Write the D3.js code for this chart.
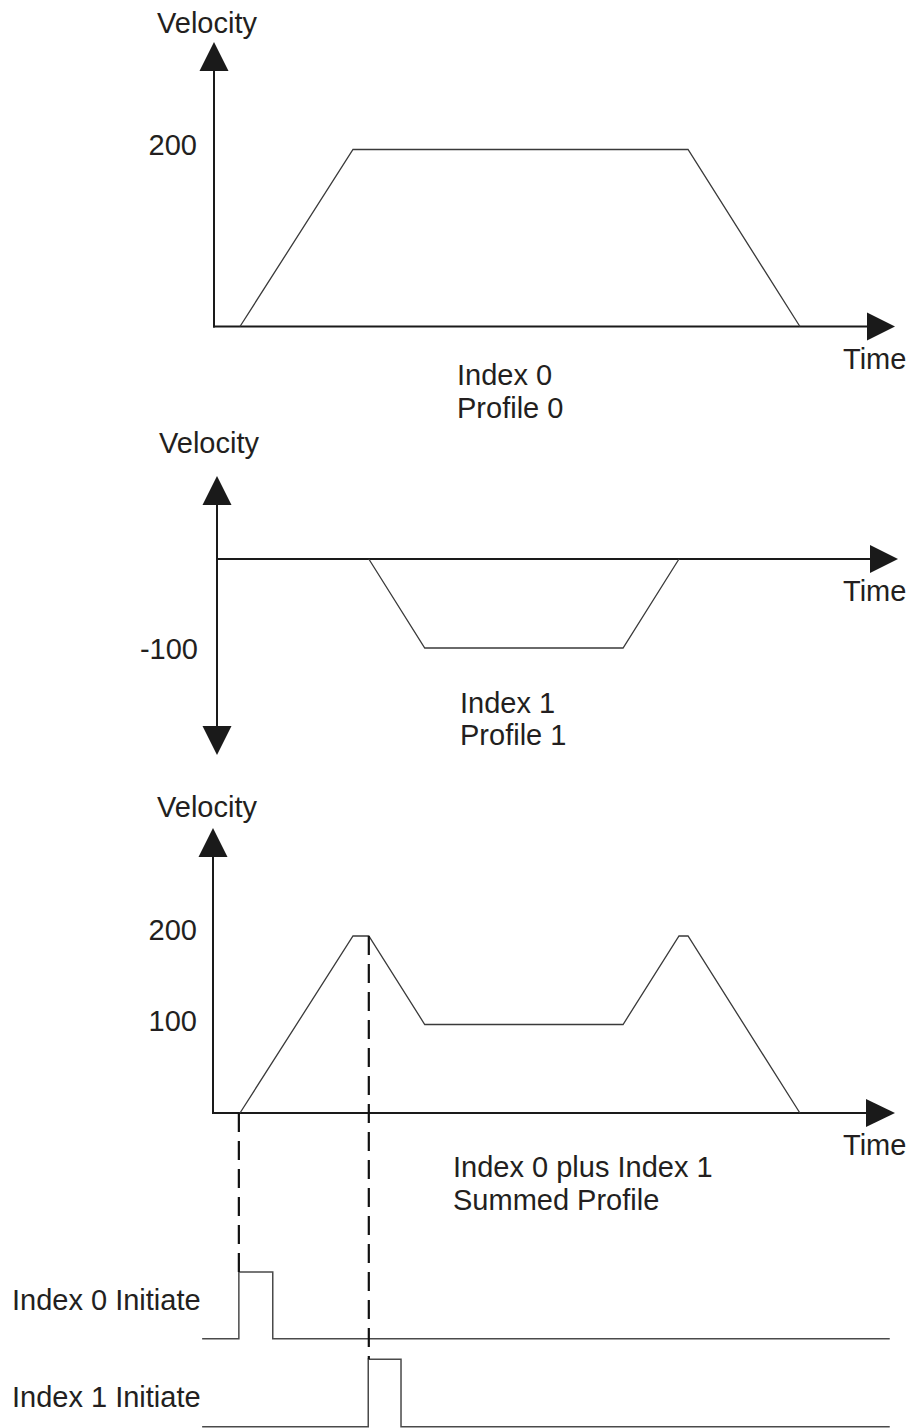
<!DOCTYPE html>
<html>
<head>
<meta charset="utf-8">
<script src="https://cdn.jsdelivr.net/npm/d3@7"></script>
<style>
  html, body { margin: 0; padding: 0; background: #fff; }
  svg text { font-family: "Liberation Sans", Arial, sans-serif; font-size: 29px; fill: #231f20; }
</style>
</head>
<body>
<svg id="chart" width="913" height="1428"></svg>
<script>
// ---------- DATA ----------
// Index 0 (Profile 0) velocity profile: time / velocity
const index0Times = [4.6, 24.6, 83.9, 103.7];
const index0Vel   = [0, 200, 200, 0];
// Index 1 (Profile 1) velocity profile
const index1Times = [27.4, 37.3, 72.4, 82.3];
const index1Vel   = [0, -100, -100, 0];
// Summed profile
const sumTimes = [4.6, 24.6, 27.4, 37.3, 72.4, 82.3, 83.9, 103.7];
const sumVel   = [0, 200, 200, 100, 100, 200, 200, 0];
// Initiate pulses (time, level)
const pulse0Times = [-2.1, 4.4, 4.4, 10.4, 10.4, 119.6];
const pulse0Level = [0, 0, 1, 1, 0, 0];
const pulse1Times = [-2.1, 27.3, 27.3, 33.1, 33.1, 119.6];
const pulse1Level = [0, 0, 1, 1, 0, 0];
// Tick labels
const topTicks = [200];
const midTicks = [-100];
const botTicks = [200, 100];
// Text labels
const topCaption = ["Index 0", "Profile 0"];
const midCaption = ["Index 1", "Profile 1"];
const botCaption = ["Index 0 plus Index 1", "Summed Profile"];
const pulseLabels = ["Index 0 Initiate", "Index 1 Initiate"];

// ---------- SCALES ----------
const svg = d3.select("#chart");
const x = d3.scaleLinear().domain([0, 100]).range([214, 779]);
const yTop = d3.scaleLinear().domain([0, 200]).range([326.5, 149.5]);
const yMid = d3.scaleLinear().domain([-100, 0]).range([648, 559]);
const yBot = d3.scaleLinear().domain([0, 200]).range([1113, 936]);
const yP0 = d3.scaleLinear().domain([0, 1]).range([1338.7, 1272]);
const yP1 = d3.scaleLinear().domain([0, 1]).range([1426.7, 1359.3]);

const axisColor = "#1a1a1a";
const lineColor = "#3a3a3a";

function arrowUp(cx, tip, base) {
  svg.append("path").attr("d", `M${cx},${tip} L${cx - 14.5},${base} L${cx + 14.5},${base} Z`).attr("fill", axisColor);
}
function arrowDown(cx, tip, base) {
  svg.append("path").attr("d", `M${cx},${tip} L${cx - 14.5},${base} L${cx + 14.5},${base} Z`).attr("fill", axisColor);
}
function arrowRight(cy, base, tip) {
  svg.append("path").attr("d", `M${tip},${cy} L${base},${cy - 14} L${base},${cy + 14} Z`).attr("fill", axisColor);
}
function hline(x1, x2, y) {
  svg.append("line").attr("x1", x1).attr("x2", x2).attr("y1", y).attr("y2", y).attr("stroke", axisColor).attr("stroke-width", 2);
}
function vline(xx, y1, y2) {
  svg.append("line").attr("x1", xx).attr("x2", xx).attr("y1", y1).attr("y2", y2).attr("stroke", axisColor).attr("stroke-width", 2);
}
function text(str, tx, ty, anchor) {
  svg.append("text").attr("x", tx).attr("y", ty).attr("text-anchor", anchor || "start").text(str);
}
function profile(times, vals, ys, color, w) {
  const data = times.map((t, i) => [t, vals[i]]);
  svg.append("path")
    .attr("d", d3.line().x(d => x(d[0])).y(d => ys(d[1]))(data))
    .attr("fill", "none").attr("stroke", color).attr("stroke-width", w).attr("stroke-linejoin", "miter");
}

// ---------- TOP CHART ----------
const axTop = x(0);
vline(axTop, 70, yTop(0) + 1);
arrowUp(axTop, 42, 71);
hline(axTop - 1, 868, yTop(0));
arrowRight(yTop(0), 867, 895);
text("Velocity", 207, 33, "middle");
text("Time", 843, 369);
topTicks.forEach(v => text(String(v), 197, yTop(v) + 5.5, "end"));
profile(index0Times, index0Vel, yTop, lineColor, 1.3);
topCaption.forEach((s, i) => text(s, 457, 385 + i * 33));

// ---------- MIDDLE CHART ----------
const axMid = x(0) + 3;
vline(axMid, 504, 727);
arrowUp(axMid, 476, 505);
arrowDown(axMid, 755, 726);
hline(axMid, 871, yMid(0));
arrowRight(yMid(0), 870, 898);
text("Velocity", 209, 453, "middle");
text("Time", 843, 601);
midTicks.forEach(v => text(String(v), 198, yMid(v) + 11, "end"));
profile(index1Times, index1Vel, yMid, lineColor, 1.3);
midCaption.forEach((s, i) => text(s, 460, 713 + i * 32));

// ---------- BOTTOM CHART ----------
const axBot = x(0) - 1;
vline(axBot, 856, yBot(0) + 1);
arrowUp(axBot, 828, 857);
hline(axBot - 1, 867, yBot(0));
arrowRight(yBot(0), 866, 895);
text("Velocity", 207, 817, "middle");
text("Time", 843, 1155);
botTicks.forEach(v => text(String(v), 197, yBot(v) + (v === 200 ? 4 : 6), "end"));
profile(sumTimes, sumVel, yBot, lineColor, 1.3);
botCaption.forEach((s, i) => text(s, 453, 1177 + i * 33));

// ---------- PULSES ----------
profile(pulse0Times, pulse0Level, yP0, "#4a4a4a", 1.5);
profile(pulse1Times, pulse1Level, yP1, "#4a4a4a", 1.5);
text(pulseLabels[0], 12, 1310);
text(pulseLabels[1], 12, 1407);

// ---------- DASHED GUIDES ----------
const dashed = [
  { t: pulse0Times[1], y1: yBot(0), y2: yP0(1) },
  { t: index1Times[0], y1: yBot(sumVel[2]), y2: yP1(1) }
];
dashed.forEach(d => {
  svg.append("line")
    .attr("x1", x(d.t)).attr("x2", x(d.t))
    .attr("y1", d.y1).attr("y2", d.y2)
    .attr("stroke", "#111").attr("stroke-width", 2.2)
    .attr("stroke-dasharray", "19,9");
});
</script>
</body>
</html>
